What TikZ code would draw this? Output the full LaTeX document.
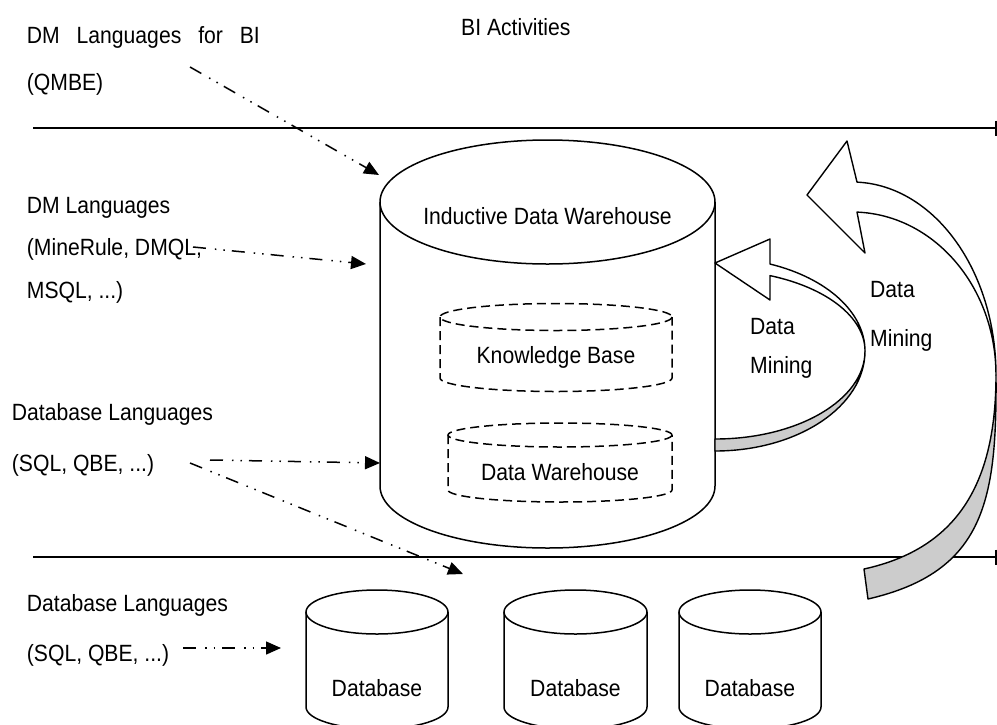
\documentclass[tikz,border=0pt]{standalone}
\usepackage{fontspec}
\setmainfont{Liberation Sans}[FakeStretch=0.9]
\usepackage{tikz}
\usetikzlibrary{arrows.meta}
\definecolor{bandgray}{RGB}{204,204,204}
\tikzset{
  lbl/.style={inner sep=0pt, font=\fontsize{23.5pt}{28pt}\selectfont},
  tierline/.style={line width=1.3pt, -{Bar[width=15pt,line width=2.5pt]}},
  langarrow/.style={line width=1.5pt,
    dash pattern=on 13pt off 9pt on 1.5pt off 7pt on 1.5pt off 7pt,
    -{Triangle[length=15pt,width=13pt]}},
  solidcyl/.style={line width=1.5pt},
  dashcyl/.style={line width=1.5pt, dash pattern=on 9pt off 5pt},
  band/.style={line width=1.4pt, line join=round}
}
% cylinder: style, centre x, top y, x radius, y radius, bottom y
\newcommand{\drawcyl}[6]{%
  \draw[#1] ({#2-#4},#3) -- ({#2-#4},#6)
    arc[start angle=180, end angle=0, x radius=#4, y radius=#5] -- ({#2+#4},#3);
  \draw[#1] (#2,#3) ellipse[x radius=#4, y radius=#5];
}
\begin{document}
\begin{tikzpicture}[x=1pt,y=-1pt]
\useasboundingbox (0,0) rectangle (997,724);

% tiers
\coordinate (t1a) at (33,128); \coordinate (t1b) at (997,128);
\coordinate (t2a) at (33,557); \coordinate (t2b) at (997,557);
\draw[tierline] (t1a) -- (t1b);
\draw[tierline] (t2a) -- (t2b);

% stores
\drawcyl{solidcyl}{547.5}{202}{167.5}{62}{486}
\drawcyl{dashcyl}{556}{317}{116}{13.5}{378}
\drawcyl{dashcyl}{560}{435}{112}{12}{490}
\drawcyl{solidcyl}{377}{612}{71}{22}{707}
\drawcyl{solidcyl}{575.5}{612}{71.5}{22}{707}
\drawcyl{solidcyl}{750}{612}{71}{22}{707}

% small curved arrow
\draw[band, fill=bandgray] (865,351) arc[start angle=0, end angle=90, x radius=150, y radius=100]
  -- (715,439) arc[start angle=90, end angle=0, x radius=150, y radius=88] -- cycle;
\draw[band, fill=white] (865,351) arc[start angle=0, end angle=-68.5, x radius=150, y radius=93.5]
  -- (770,239) -- (715,263) -- (770,300)
  -- (770,275.6) arc[start angle=-68.5, end angle=0, x radius=150, y radius=81] -- cycle;

% big curved arrow
\draw[band, fill=bandgray] (996,375) .. controls (997,500) and (985,572) .. (868,599)
  -- (864,569) .. controls (960,548) and (996,480) .. (996,375) -- cycle;
\draw[band, fill=white] (996,375) arc[start angle=0, end angle=-88, x radius=144, y radius=193]
  -- (847,141) -- (807,195) -- (865,253)
  -- (857,212.1) arc[start angle=-88, end angle=0, x radius=144, y radius=163] -- cycle;

% labels
\node[lbl, anchor=base west] (bi) at (461,35) {BI Activities};
\node[lbl, anchor=base west] (dmbi) at (26.7,43.3) {\makebox[233pt][s]{DM Languages for BI}};
\node[lbl, anchor=base west] (qmbe) at (26.7,90) {(QMBE)};
\node[lbl, anchor=base west] (dml) at (26.7,213) {DM Languages};
\node[lbl, anchor=base west] (mine) at (26.7,255) {(MineRule, DMQL,};
\node[lbl, anchor=base west] (msql) at (26.7,298) {MSQL, ...)};
\node[lbl, anchor=base west] (dbla) at (11.7,420) {Database Languages};
\node[lbl, anchor=base west] (sqla) at (11.7,471.7) {(SQL, QBE, ...)};
\node[lbl, anchor=base west] (dblb) at (26.7,611.7) {Database Languages};
\node[lbl, anchor=base west] (sqlb) at (26.7,661.7) {(SQL, QBE, ...)};
\node[lbl, anchor=base] (idw) at (547.5,224) {Inductive Data Warehouse};
\node[lbl, anchor=base] (kb) at (556,363.3) {Knowledge Base};
\node[lbl, anchor=base] (dw) at (560,480) {Data Warehouse};
\node[lbl, anchor=base] (db1) at (377,696.7) {Database};
\node[lbl, anchor=base] (db2) at (575.5,696.7) {Database};
\node[lbl, anchor=base] (db3) at (750,696.7) {Database};
\node[lbl, anchor=base west] (dma) at (750,334) {Data};
\node[lbl, anchor=base west] (mna) at (750,373) {Mining};
\node[lbl, anchor=base west] (dmb) at (870,297) {Data};
\node[lbl, anchor=base west] (mnb) at (870,346) {Mining};

% language arrows
\coordinate (a1s) at (190,67);  \coordinate (a1e) at (379,175);
\coordinate (a2s) at (193,247); \coordinate (a2e) at (366,264);
\coordinate (a3s) at (210,460); \coordinate (a3e) at (380,463);
\coordinate (a4s) at (190,463); \coordinate (a4e) at (463,574);
\coordinate (a5s) at (183,648); \coordinate (a5e) at (281,648);
\draw[langarrow] (a1s) -- (a1e);
\draw[langarrow] (a2s) -- (a2e);
\draw[langarrow] (a3s) -- (a3e);
\draw[langarrow] (a4s) -- (a4e);
\draw[langarrow] (a5s) -- (a5e);
\end{tikzpicture}
\end{document}
